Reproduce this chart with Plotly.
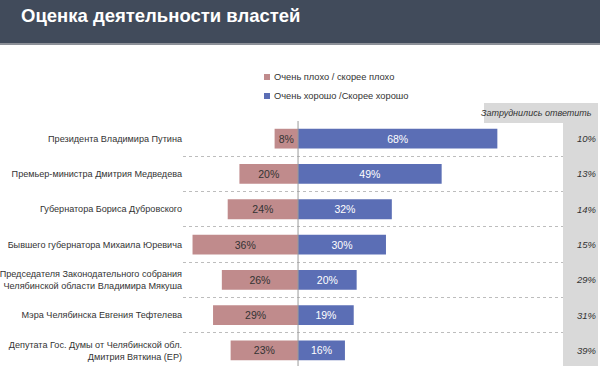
import plotly.graph_objects as go

categories = [
    "Президента Владимира Путина",
    "Премьер-министра Дмитрия Медведева",
    "Губернатора Бориса Дубровского",
    "Бывшего губернатора Михаила Юревича",
    "Председателя Законодательного собрания<br>Челябинской области Владимира Мякуша",
    "Мэра Челябинска Евгения Тефтелева",
    "Депутата Гос. Думы от Челябинской обл.<br>Дмитрия Вяткина (ЕР)",
]
bad = [8, 20, 24, 36, 26, 29, 23]
good = [68, 49, 32, 30, 20, 19, 16]
undecided = [10, 13, 14, 15, 29, 31, 39]

title = "Оценка деятельности властей"
bad_name = "Очень плохо / скорее плохо"
good_name = "Очень хорошо /Скорее хорошо"
undecided_name = "Затруднились ответить"

W, H = 600, 366
L, R, T, B = 183, 563, 121, 366
FONT = "Liberation Sans"


def px_x(p):
    return (p - L) / (R - L)


def px_y(p):
    return 1 - (p - T) / (B - T)


RED = "#C08B8C"
BLUE = "#5B6EB5"

fig = go.Figure()
fig.add_trace(go.Bar(
    y=categories, x=[-v for v in bad], orientation="h", name=bad_name,
    marker=dict(color=RED, line=dict(width=0)), width=0.56,
    text=[f"{v}%" for v in bad], textposition="inside", insidetextanchor="middle",
    textfont=dict(family=FONT, size=10.5, color="#333333"), showlegend=False,
    constraintext="none",
))
fig.add_trace(go.Bar(
    y=categories, x=good, orientation="h", name=good_name,
    marker=dict(color=BLUE, line=dict(width=0)), width=0.56,
    text=[f"{v}%" for v in good], textposition="inside", insidetextanchor="middle",
    textfont=dict(family=FONT, size=10.5, color="#FFFFFF"), showlegend=False,
    constraintext="none",
))

shapes = []
annotations = []

# header band
shapes.append(dict(type="rect", xref="paper", yref="paper", x0=px_x(0), x1=px_x(W),
                   y0=px_y(43), y1=px_y(0), fillcolor="#414B5B", line=dict(width=0), layer="below"))
shapes.append(dict(type="rect", xref="paper", yref="paper", x0=px_x(0), x1=px_x(W),
                   y0=px_y(45), y1=px_y(43), fillcolor="#8C9098", line=dict(width=0), layer="below"))
annotations.append(dict(text=f"<b>{title}</b>", xref="paper", yref="paper", x=px_x(19), y=px_y(16),
                        xanchor="left", yanchor="middle", showarrow=False,
                        font=dict(family=FONT, size=18.5, color="#FFFFFF")))

# undecided column
shapes.append(dict(type="rect", xref="paper", yref="paper", x0=px_x(563), x1=px_x(598),
                   y0=0, y1=px_y(123), fillcolor="#D9D9D9", line=dict(width=0), layer="below"))
shapes.append(dict(type="rect", xref="paper", yref="paper", x0=px_x(484), x1=px_x(598),
                   y0=px_y(123), y1=px_y(103), fillcolor="#D9D9D9", line=dict(width=0), layer="below"))
annotations.append(dict(text=f"<i>{undecided_name}</i>", xref="paper", yref="paper", x=px_x(594), y=px_y(113),
                        xanchor="right", yanchor="middle", showarrow=False,
                        font=dict(family=FONT, size=9, color="#333333")))
for c, v in zip(categories, undecided):
    annotations.append(dict(text=f"<i>{v}%</i>", xref="paper", yref="y", x=px_x(599), y=c,
                            xanchor="right", yanchor="middle", showarrow=False,
                            font=dict(family=FONT, size=9.5, color="#333333")))

# legend
for yy, col, name in [(77, RED, bad_name), (96, BLUE, good_name)]:
    shapes.append(dict(type="rect", xref="paper", yref="paper", x0=px_x(264), x1=px_x(270),
                       y0=px_y(yy + 3), y1=px_y(yy - 3), fillcolor=col, line=dict(width=0)))
    annotations.append(dict(text=name, xref="paper", yref="paper", x=px_x(272), y=px_y(yy),
                            xanchor="left", yanchor="middle", showarrow=False,
                            font=dict(family=FONT, size=9.3, color="#333333")))

# zero line
shapes.append(dict(type="line", xref="x", yref="paper", x0=0, x1=0, y0=0, y1=1,
                   line=dict(color="#9A9A9A", width=1)))

fig.update_layout(
    width=W, height=H, autosize=False,
    margin=dict(l=L, r=W - R, t=T, b=H - B, pad=0, autoexpand=False),
    plot_bgcolor="white", paper_bgcolor="white",
    barmode="relative", showlegend=False,
    shapes=shapes, annotations=annotations,
    font=dict(family=FONT, size=9, color="#333333"),
)
fig.update_xaxes(range=[-39.25, 90.4], visible=False, showgrid=False, zeroline=False,
                 fixedrange=True, automargin=False)
fig.update_yaxes(
    categoryorder="array", categoryarray=categories, range=[6.44, -0.5],
    tickson="boundaries", showgrid=True, gridcolor="#BDBDBD", griddash="dot", gridwidth=1,
    ticks="", showline=False, zeroline=False, automargin=False,
    tickfont=dict(family=FONT, size=9.1, color="#333333"), fixedrange=True,
)

fig.write_html("out.html", config={"displayModeBar": False},
               post_script="document.body.style.margin='0';")
